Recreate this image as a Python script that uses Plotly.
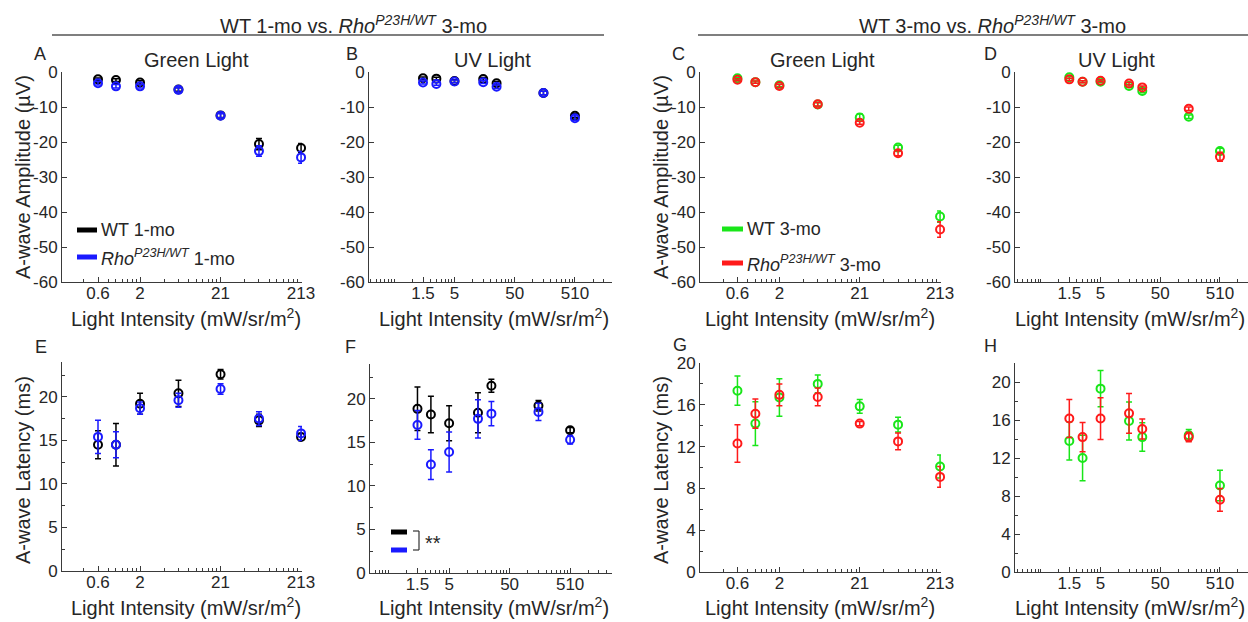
import plotly.graph_objects as go

W, H = 1248, 622

# ---------------- data ----------------
# light intensities (mW/sr/m^2)
green_x = [0.64, 1.07, 2.13, 6.39, 21.3, 63.9, 213]
uv_x = [1.53, 2.55, 5.1, 15.3, 25.5, 153, 510]

green_tickvals = [0.64, 2.13, 21.3, 213]
green_ticktext = ["0.6", "2", "21", "213"]
uv_tickvals = [1.53, 5.1, 51, 510]
uv_ticktext = ["1.5", "5", "50", "510"]

# A: amplitude, green, 1-mo
a_wt1 = [-2.1, -2.3, -3.0, -5.0, -12.4, -20.6, -21.7]
a_wt1_err = [0.4, 0.4, 0.5, 0.5, 0.6, 1.6, 1.3]
a_rho1 = [-3.2, -4.1, -4.1, -5.1, -12.5, -22.6, -24.4]
a_rho1_err = [0.5, 0.5, 0.5, 0.6, 0.6, 1.5, 1.7]
# B: amplitude, UV, 1-mo
b_wt1 = [-1.8, -1.9, -2.6, -2.0, -3.2, -6.0, -12.5]
b_wt1_err = [0.4, 0.4, 0.4, 0.4, 0.5, 0.5, 0.6]
b_rho1 = [-3.0, -3.4, -2.7, -2.9, -4.2, -6.0, -13.2]
b_rho1_err = [0.4, 0.4, 0.4, 0.4, 0.5, 0.5, 0.6]
# C: amplitude, green, 3-mo
c_wt3 = [-1.8, -2.9, -3.8, -9.3, -13.0, -21.6, -41.3]
c_wt3_err = [0.3, 0.3, 0.4, 0.5, 1.1, 0.7, 1.6]
c_rho3 = [-2.2, -2.9, -4.0, -9.2, -14.5, -23.2, -45.0]
c_rho3_err = [0.3, 0.3, 0.4, 0.5, 0.4, 0.7, 2.2]
# D: amplitude, UV, 3-mo
d_wt3 = [-1.5, -2.8, -2.8, -4.0, -5.4, -12.8, -22.6]
d_wt3_err = [0.3, 0.3, 0.3, 0.4, 0.5, 0.5, 0.8]
d_rho3 = [-2.1, -2.8, -2.5, -3.3, -4.4, -10.5, -24.2]
d_rho3_err = [0.3, 0.3, 0.3, 0.4, 0.4, 0.5, 1.3]
# E: latency, green, 1-mo
e_wt1 = [14.5, 14.5, 19.2, 20.4, 22.6, 17.3, 15.4]
e_wt1_err = [1.6, 2.45, 1.2, 1.5, 0.55, 0.7, 0.4]
e_rho1 = [15.4, 14.5, 18.7, 19.6, 20.9, 17.5, 15.8]
e_rho1_err = [1.9, 1.5, 0.7, 0.8, 0.6, 0.8, 0.8]
# F: latency, UV, 1-mo
f_wt1 = [18.85, 18.2, 17.2, 18.4, 21.5, 19.2, 16.4]
f_wt1_err = [2.5, 2.1, 2.0, 2.3, 0.75, 0.6, 0.3]
f_rho1 = [17.0, 12.45, 13.9, 17.7, 18.3, 18.5, 15.3]
f_rho1_err = [1.65, 1.7, 2.3, 2.2, 1.4, 1.0, 0.5]
# G: latency, green, 3-mo
g_wt3 = [17.35, 14.2, 16.7, 18.0, 15.85, 14.1, 10.1]
g_wt3_err = [1.4, 2.1, 1.8, 0.85, 0.65, 0.7, 1.1]
g_rho3 = [12.3, 15.15, 16.95, 16.75, 14.2, 12.5, 9.1]
g_rho3_err = [1.8, 1.4, 1.05, 0.85, 0.2, 0.8, 1.0]
# H: latency, UV, 3-mo
h_wt3 = [13.8, 12.0, 19.3, 15.9, 14.2, 14.4, 9.1]
h_wt3_err = [2.0, 2.4, 1.9, 2.0, 1.5, 0.6, 1.6]
h_rho3 = [16.15, 14.2, 16.15, 16.7, 15.05, 14.2, 7.6]
h_rho3_err = [2.0, 1.55, 2.2, 2.1, 1.05, 0.5, 1.2]

amp_ticks = [-60, -50, -40, -30, -20, -10, 0]
lat_ticks_1 = [0, 5, 10, 15, 20]
lat_ticks_3 = [0, 4, 8, 12, 16, 20]

# ---------------- style ----------------
FONT = "Liberation Sans, Arial, Helvetica, sans-serif"
TXT = "#262626"
AX = "#3a3a3a"
BLACK, BLUE, GREEN, RED = "#000000", "#1a1aff", "#19e619", "#ff1a1a"


def px(x):
    return x / W


def py(y):
    return 1 - y / H


def log_minor(base, lo, hi, majors):
    vals = []
    for n in range(-3, 5):
        for k in range(1, 10):
            v = base * k * 10 ** n
            if 10 ** lo < v < 10 ** hi and all(abs(v / m - 1) > 0.03 for m in majors):
                vals.append(v)
    return vals


# panel geometry (pixels): x0, x1, y0(top), y1(bottom), xrange(log)
panels = [
    dict(name="A", x=(62, 302), y=(72, 282), xr=(-0.641, 2.34), kind="g"),
    dict(name="B", x=(369, 612), y=(72, 282), xr=(-0.712, 3.323), kind="u"),
    dict(name="C", x=(700, 941), y=(72, 282), xr=(-0.66, 2.34), kind="g"),
    dict(name="D", x=(1015, 1248), y=(72, 282), xr=(-0.725, 3.177), kind="u"),
    dict(name="E", x=(62, 302), y=(362, 571), xr=(-0.641, 2.34), kind="g"),
    dict(name="F", x=(370, 612), y=(364, 573), xr=(-0.60, 3.40), kind="u"),
    dict(name="G", x=(700, 941), y=(363, 572), xr=(-0.66, 2.34), kind="g"),
    dict(name="H", x=(1015, 1248), y=(363, 572), xr=(-0.725, 3.177), kind="u"),
]

series = [
    [(a_wt1, a_wt1_err, BLACK), (a_rho1, a_rho1_err, BLUE)],
    [(b_wt1, b_wt1_err, BLACK), (b_rho1, b_rho1_err, BLUE)],
    [(c_wt3, c_wt3_err, GREEN), (c_rho3, c_rho3_err, RED)],
    [(d_wt3, d_wt3_err, GREEN), (d_rho3, d_rho3_err, RED)],
    [(e_wt1, e_wt1_err, BLACK), (e_rho1, e_rho1_err, BLUE)],
    [(f_wt1, f_wt1_err, BLACK), (f_rho1, f_rho1_err, BLUE)],
    [(g_wt3, g_wt3_err, GREEN), (g_rho3, g_rho3_err, RED)],
    [(h_wt3, h_wt3_err, GREEN), (h_rho3, h_rho3_err, RED)],
]

yinfo = [
    dict(r=(-60, 0), t=amp_ticks, minor=None),
    dict(r=(-60, 0), t=amp_ticks, minor=None),
    dict(r=(-60, 0), t=amp_ticks, minor=None),
    dict(r=(-60, 0), t=amp_ticks, minor=None),
    dict(r=(0, 24), t=lat_ticks_1, minor=2.5),
    dict(r=(0, 24), t=lat_ticks_1, minor=2.5),
    dict(r=(0, 20), t=lat_ticks_3, minor=2),
    dict(r=(0, 22), t=lat_ticks_3, minor=2),
]

fig = go.Figure()
layout = dict(
    template="none",
    width=W, height=H, margin=dict(l=0, r=0, t=0, b=0, pad=0), autosize=False,
    paper_bgcolor="white", plot_bgcolor="white", showlegend=False,
    font=dict(family=FONT, color=TXT, size=17),
)

for i, (p, ser, yi) in enumerate(zip(panels, series, yinfo), start=1):
    xs = green_x if p["kind"] == "g" else uv_x
    tv = green_tickvals if p["kind"] == "g" else uv_tickvals
    tt = green_ticktext if p["kind"] == "g" else uv_ticktext
    base = 0.213 if p["kind"] == "g" else 0.51
    for vals, errs, col in ser:
        fig.add_trace(go.Scatter(
            x=xs, y=vals, mode="markers",
            marker=dict(symbol="circle-open", size=8, color=col, line=dict(width=2, color=col)),
            error_y=dict(type="data", array=errs, visible=True, thickness=1.5, width=3, color=col),
            xaxis=f"x{i}", yaxis=f"y{i}", cliponaxis=False,
        ))
    xa = dict(
        type="log", domain=[px(p["x"][0]), px(p["x"][1])], range=list(p["xr"]),
        anchor=f"y{i}", tickmode="array", tickvals=tv, ticktext=tt, automargin=False,
        ticks="inside", ticklen=5, tickwidth=1, tickcolor=AX, ticklabelstandoff=-4,
        showline=True, linecolor=AX, linewidth=1, showgrid=False, zeroline=False,
        tickfont=dict(size=17, color=TXT, family=FONT),
        minor=dict(tickmode="array", tickvals=log_minor(base, p["xr"][0], p["xr"][1], tv),
                   ticks="inside", ticklen=3, tickwidth=1, tickcolor=AX, showgrid=False),
    )
    ya = dict(
        domain=[py(p["y"][1]), py(p["y"][0])], range=list(yi["r"]),
        anchor=f"x{i}", tickmode="array", tickvals=yi["t"], ticktext=[str(v) for v in yi["t"]],
        automargin=False,
        ticks="inside", ticklen=5, tickwidth=1, tickcolor=AX,
        showline=True, linecolor=AX, linewidth=1, showgrid=False, zeroline=False,
        tickfont=dict(size=17, color=TXT, family=FONT),
    )
    if yi["minor"]:
        ya["minor"] = dict(dtick=yi["minor"], ticks="inside", ticklen=3, tickwidth=1,
                           tickcolor=AX, showgrid=False)
    layout[f"xaxis{'' if i == 1 else i}"] = xa
    layout[f"yaxis{'' if i == 1 else i}"] = ya

annotations = []
shapes = []


def text(x, y, s, size=20, xanchor="center", yanchor="middle", angle=0):
    annotations.append(dict(
        x=px(x), y=py(y), xref="paper", yref="paper", text=s, showarrow=False,
        xanchor=xanchor, yanchor=yanchor, textangle=angle,
        font=dict(size=size, color=TXT, family=FONT),
    ))


def hline(x0, x1, y, color=AX, width=1.5):
    shapes.append(dict(type="line", xref="paper", yref="paper",
                       x0=px(x0), x1=px(x1), y0=py(y), y1=py(y),
                       line=dict(color=color, width=width)))


def vline(x, y0, y1, color=AX, width=1.5):
    shapes.append(dict(type="line", xref="paper", yref="paper",
                       x0=px(x), x1=px(x), y0=py(y0), y1=py(y1),
                       line=dict(color=color, width=width)))


RHO = "<i>Rho<sup>P23H/WT</sup></i>"

# group headers
text(353, 24, f"WT 1-mo vs. {RHO} 3-mo")
hline(52, 604, 35, color="#555555", width=1.5)
text(993, 24, f"WT 3-mo vs. {RHO} 3-mo")
hline(698, 1248, 35, color="#555555", width=1.5)

# panel letters
for name, x, y in [("A", 40, 54), ("B", 352, 54), ("C", 678, 54), ("D", 990, 54),
                   ("E", 41, 347), ("F", 350, 347), ("G", 680, 345), ("H", 990, 346)]:
    text(x, y, name, size=18)

# panel titles
text(196, 60, "Green Light")
text(492, 60, "UV Light")
text(822, 60, "Green Light")
text(1116, 60, "UV Light")

# axis titles
xt = "Light Intensity (mW/sr/m<sup>2</sup>)"
for x in (186, 494, 820, 1130):
    text(x, 317, xt)
    text(x, 606, xt)
text(23, 177, "A-wave Amplitude (µV)", angle=-90)
text(661, 177, "A-wave Amplitude (µV)", angle=-90)
text(23, 470, "A-wave Latency (ms)", angle=-90)
text(661, 470, "A-wave Latency (ms)", angle=-90)

# legends
hline(77, 97, 230, color=BLACK, width=5)
text(99, 230, "WT 1-mo", size=18, xanchor="left")
hline(77, 97, 257, color=BLUE, width=5)
text(99, 257, f"{RHO} 1-mo", size=18, xanchor="left")

hline(722, 743, 229, color=GREEN, width=5)
text(745, 229, "WT 3-mo", size=18, xanchor="left")
hline(722, 743, 263, color=RED, width=5)
text(745, 263, f"{RHO} 3-mo", size=18, xanchor="left")

# significance marker in F
hline(391, 407, 532, color=BLACK, width=5)
hline(391, 407, 550, color=BLUE, width=5)
hline(413, 419, 531, color="#333333", width=1.2)
hline(413, 419, 550, color="#333333", width=1.2)
vline(419, 531, 550, color="#333333", width=1.2)
text(423, 543, "**", size=20, xanchor="left")

layout["annotations"] = annotations
layout["shapes"] = shapes
fig.update_layout(**layout)
fig.write_html("out.html")
